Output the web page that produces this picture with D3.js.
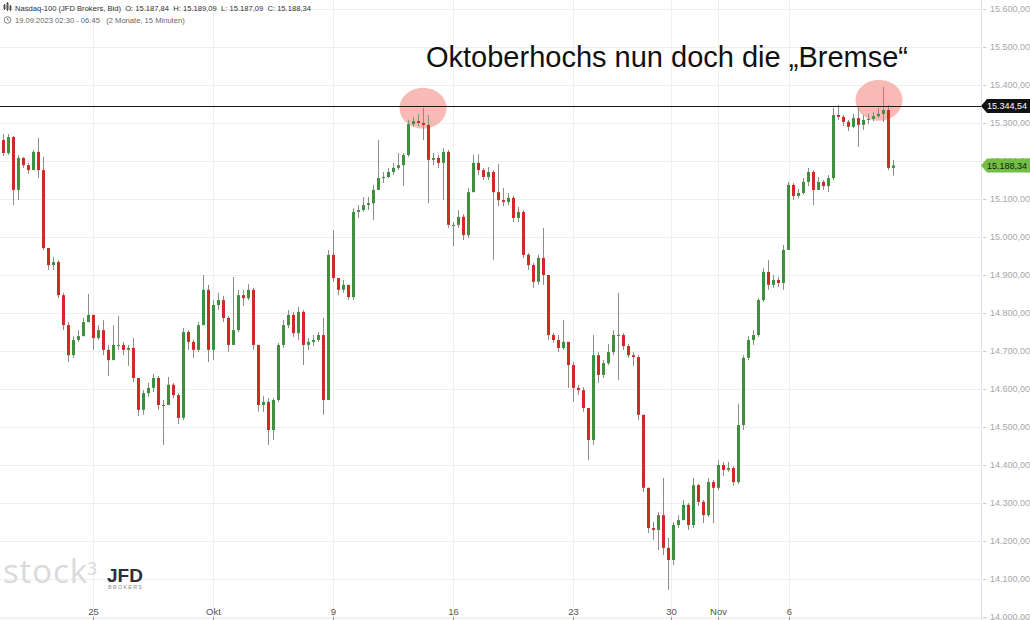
<!DOCTYPE html>
<html><head><meta charset="utf-8">
<script src="https://cdn.jsdelivr.net/npm/d3@7"></script>
<style>
body{margin:0;background:#fff;}
svg{display:block;font-family:"Liberation Sans",Arial,sans-serif;}
</style>
</head><body>
<svg id="c" width="1030" height="620"></svg>
<script>
// ---------- data (15-minute Nasdaq-100 path, resampled) ----------
const firstOpen = 15255;
const closes = [
15221,15263,15124,15208,15189,15176,15224,15176,14971,14926,
14934,14847,14768,14689,14729,14739,14776,14795,14734,14755,
14703,14676,14716,14716,14703,14708,14629,14545,14589,14603,
14629,14558,14558,14611,14584,14524,14750,14724,14703,14768,
14861,14703,14821,14834,14787,14716,14755,14847,14839,14861,
14716,14558,14566,14492,14571,14716,14768,14795,14747,14803,
14716,14724,14729,14742,14571,14953,14892,14861,14874,14842,
15066,15071,15084,15089,15124,15155,15158,15171,15182,15189,
15216,15297,15305,15300,15295,15203,15208,15195,15224,15032,
15032,15053,15005,15118,15195,15176,15158,15171,15118,15097,
15092,15103,15050,15066,14953,14926,14882,14945,14900,14742,
14729,14708,14724,14663,14603,14597,14550,14466,14689,14637,
14668,14697,14742,14742,14713,14689,14684,14532,14340,14234,
14229,14268,14182,14150,14242,14255,14295,14242,14347,14303,
14268,14355,14340,14400,14387,14392,14355,14505,14682,14729,
14742,14834,14908,14874,14887,14879,14966,15137,15108,15116,
15145,15171,15124,15145,15134,15155,15321,15316,15303,15290,
15313,15295,15308,15311,15318,15324,15334,15182,15188.34];
const highs = [
15271,15271,15266,15216,15211,15195,15229,15261,15211,14971,
14947,14939,14853,14776,14739,14755,14787,14850,14795,14768,
14782,14716,14768,14792,14724,14716,14734,14629,14597,14616,
14640,14634,14571,14632,14616,14589,14760,14755,14729,14776,
14900,14874,14834,14853,14845,14792,14895,14861,14861,14876,
14866,14716,14582,14576,14576,14721,14782,14808,14803,14816,
14808,14734,14742,14750,14787,14966,15018,14887,14887,14874,
15076,15084,15105,15105,15137,15255,15171,15182,15195,15221,
15221,15308,15316,15324,15340,15321,15221,15216,15234,15229,
15039,15071,15060,15129,15216,15218,15182,15184,15176,15192,
15129,15116,15108,15079,15071,14958,14932,14953,15024,14900,
14747,14742,14782,14724,14671,14611,14605,14550,14742,14697,
14676,14718,14755,14853,14747,14718,14697,14689,14532,14340,
14250,14276,14366,14208,14250,14268,14308,14300,14366,14350,
14308,14366,14361,14413,14408,14408,14397,14561,14689,14739,
14755,14839,14918,14939,14900,14895,14979,15145,15142,15126,
15155,15182,15176,15158,15150,15163,15340,15347,15321,15308,
15324,15340,15321,15324,15329,15340,15395,15347,15203];
const lows = [
15213,15216,15084,15097,15182,15166,15189,15155,14966,14913,
14913,14839,14755,14671,14682,14724,14739,14776,14703,14729,
14689,14634,14703,14703,14689,14661,14618,14529,14532,14579,
14592,14545,14453,14571,14576,14508,14518,14703,14682,14697,
14787,14671,14676,14808,14776,14697,14716,14750,14818,14834,
14703,14540,14540,14453,14466,14566,14708,14760,14737,14729,
14663,14703,14713,14724,14532,14571,14882,14847,14853,14834,
14834,15050,15066,15071,15045,15124,15142,15155,15163,15176,
15134,15211,15290,15292,15255,15089,15189,15182,15097,15024,
14976,15024,14992,14997,15118,15163,15150,15150,14939,15081,
15081,15084,15039,15039,14945,14913,14866,14874,14874,14729,
14721,14697,14703,14603,14566,14584,14540,14413,14453,14616,
14629,14663,14689,14624,14703,14682,14661,14518,14329,14221,
14203,14176,14163,14071,14137,14234,14255,14229,14234,14292,
14247,14263,14247,14334,14371,14382,14345,14350,14492,14676,
14716,14737,14829,14861,14866,14868,14861,14966,15097,15103,
15111,15134,15084,15124,15124,15118,15150,15308,15292,15279,
15287,15237,15282,15297,15305,15313,15303,15176,15161];

const xTickLabels = ["25","Okt","9","16","23","30","Nov","6"];
const xTickSlots  = [18.6, 42.6, 66.6, 90.6, 114.6, 134.2, 143.6, 157.8]; // in candle units
const yTicks = d3.range(14000, 15601, 100);
const resistance = 15344.54;
const lastPrice = 15188.34;
const highlights = [{slot: 84.6, price: 15339}, {slot: 175.8, price: 15360}];
const titleText = "Oktoberhochs nun doch die \u201EBremse\u201C";
const headerLine1 = "Nasdaq-100 (JFD Brokers, Bid)  O: 15.187,84  H: 15.189,09  L: 15.187,09  C: 15.188,34";
const headerLine2 = "19.09.2023 02:30 - 06:45   (2 Monate, 15 Minuten)";

// ---------- setup ----------
const W = 1030, H = 620, plotR = 981, plotB = 617;
const svg = d3.select("#c");
const de = d3.formatLocale({decimal:",", thousands:".", grouping:[3], currency:["","\u20AC"]});
const fmt = de.format(",.2f");

const x = d3.scaleLinear().domain([0, 196.2]).range([0, plotR]);
const y = d3.scaleLinear().domain([14000, 15600]).range([plotB, 9]);

const candles = closes.map((c, i) => {
  const o = i === 0 ? firstOpen : closes[i-1];
  return {i, o, c, h: Math.max(highs[i], o, c), l: Math.min(lows[i], o, c)};
});

// bottom strip
svg.append("rect").attr("x",0).attr("y",plotB).attr("width",W).attr("height",H-plotB).attr("fill","#f7f7f7");

// grid
svg.append("g").selectAll("line").data(yTicks).join("line")
  .attr("x1",0).attr("x2",plotR).attr("y1",d=>Math.round(y(d))+0.5).attr("y2",d=>Math.round(y(d))+0.5)
  .attr("stroke","#efefef");
svg.append("g").selectAll("line").data(xTickSlots).join("line")
  .attr("x1",d=>Math.round(x(d))+0.5).attr("x2",d=>Math.round(x(d))+0.5).attr("y1",0).attr("y2",plotB)
  .attr("stroke","#efefef");

// right axis line
svg.append("line").attr("x1",plotR+0.5).attr("x2",plotR+0.5).attr("y1",0).attr("y2",H).attr("stroke","#e2e2e2");

// y axis
const yAxis = svg.append("g").attr("transform",`translate(${plotR+2},0)`)
  .call(d3.axisRight(y).tickValues(yTicks).tickFormat(fmt).tickSize(3).tickPadding(4));
yAxis.select(".domain").remove();
yAxis.selectAll("line").attr("stroke","#c8c8c8");
yAxis.selectAll("text").attr("fill","#a6a6a6").attr("font-size","9px").attr("font-family","Liberation Sans, Arial, sans-serif");

// x axis
const xAxis = svg.append("g").attr("transform",`translate(0,${plotB})`)
  .call(d3.axisBottom(x).tickValues(xTickSlots).tickFormat((d,i)=>xTickLabels[i]).tickSize(3).tickPadding(0));
xAxis.select(".domain").remove();
xAxis.selectAll("line").attr("stroke","#999");
xAxis.selectAll("text").attr("y",-2).attr("dy","0").attr("fill","#555").attr("font-size","9.5px")
  .attr("font-family","Liberation Sans, Arial, sans-serif");

// highlight ellipses
svg.append("g").selectAll("ellipse").data(highlights).join("ellipse")
  .attr("cx",d=>x(d.slot)).attr("cy",d=>y(d.price)).attr("rx",23.5).attr("ry",20.5)
  .attr("fill","#f4a39c").attr("opacity",0.75);

// candles
const bw = 3;
const cg = svg.append("g");
cg.selectAll("line").data(candles).join("line")
  .attr("x1",d=>Math.round(x(d.i+0.5))+0.5).attr("x2",d=>Math.round(x(d.i+0.5))+0.5)
  .attr("y1",d=>y(d.h)).attr("y2",d=>y(d.l))
  .attr("stroke","#8c8c8c").attr("stroke-width",1);
cg.selectAll("rect").data(candles).join("rect")
  .attr("x",d=>Math.round(x(d.i+0.5))-1)
  .attr("width",bw)
  .attr("y",d=>y(Math.max(d.o,d.c)))
  .attr("height",d=>Math.max(1, Math.abs(y(d.o)-y(d.c))))
  .attr("fill",d=>d.c>=d.o ? "#3f8f3f" : "#d12a24");

// resistance line
svg.append("line").attr("x1",0).attr("x2",plotR).attr("y1",Math.round(y(resistance))+0.5).attr("y2",Math.round(y(resistance))+0.5)
  .attr("stroke","#1a1a1a").attr("stroke-width",1);

// price tags
function tag(price, fill, color){
  const cy = y(price);
  const g = svg.append("g");
  g.append("path").attr("d",`M${plotR},${cy} L${plotR+6},${cy-7} L${W},${cy-7} L${W},${cy+7} L${plotR+6},${cy+7} Z`).attr("fill",fill);
  g.append("text").attr("x",plotR+6).attr("y",cy).attr("dy","0.35em").attr("fill",color)
   .attr("font-size","9px").text(fmt(price));
}
tag(resistance, "#111111", "#ffffff");
tag(lastPrice, "#72bf44", "#10200a");

// title
svg.append("text").attr("x",426).attr("y",67).attr("font-size","29px").attr("fill","#111").text(titleText);

// header
const hg = svg.append("g");
[[4,5,4],[7,3,7],[10,6,4]].forEach(([cx,top,h])=>{
  hg.append("line").attr("x1",cx+0.5).attr("x2",cx+0.5).attr("y1",top-1).attr("y2",top+h+1).attr("stroke","#555");
  hg.append("rect").attr("x",cx-0.5).attr("y",top).attr("width",2).attr("height",h).attr("fill","#555");
});
hg.append("text").attr("x",15).attr("y",11).attr("font-size","7.6px").attr("fill","#333")
  .style("white-space","pre").text(headerLine1);
hg.append("circle").attr("cx",7.5).attr("cy",20).attr("r",3.3).attr("fill","none").attr("stroke","#777").attr("stroke-width",0.9);
hg.append("path").attr("d","M7.5,18 L7.5,20 L9,21").attr("fill","none").attr("stroke","#777").attr("stroke-width",0.8);
hg.append("text").attr("x",15).attr("y",23).attr("font-size","7.6px").attr("fill","#666")
  .style("white-space","pre").text(headerLine2);

// logos
svg.append("text").attr("x",3).attr("y",583).attr("font-size","33px").attr("fill","#dadada")
  .attr("font-family","Open Sans, Liberation Sans, sans-serif").attr("textLength",84).text("stock");
svg.append("text").attr("x",87).attr("y",575).attr("font-size","18px").attr("fill","#dadada")
  .attr("font-family","Open Sans, Liberation Sans, sans-serif").text("3");
svg.append("text").attr("x",107).attr("y",582).attr("font-size","19px").attr("font-weight","bold").attr("fill","#2b303a")
  .attr("textLength",36).text("JFD");
svg.append("text").attr("x",108).attr("y",589).attr("font-size","5.5px").attr("fill","#8a8a8a")
  .attr("textLength",34).text("BROKERS");
</script>
</body></html>
